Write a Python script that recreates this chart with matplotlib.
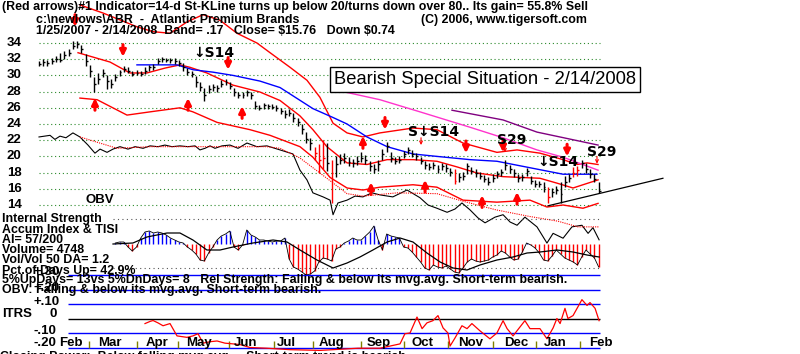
import numpy as np
import matplotlib.pyplot as plt

FONT = ['Liberation Sans Narrow', 'Liberation Sans', 'DejaVu Sans']
plt.rcParams['font.family'] = FONT

# ---------------- data (x = trading day index, 1/25/2007 .. 2/14/2008) ----------------
bar_day = list(range(0, 266, 2))
cl = [31.4, 31.6, 31.5, 31.8, 32.0, 31.9, 32.5, 32.8, 33.6, 33.9,
      33.2, 31.8, 30.5, 29.0, 29.6, 30.3, 29.3, 29.0, 29.8, 30.4,
      30.8, 30.6, 30.2, 30.3, 30.2, 30.6, 31.0, 31.0, 31.8, 32.0,
      31.9, 31.9, 31.8, 31.5, 31.0, 30.4, 30.2, 29.2, 28.6, 27.6,
      28.3, 28.6, 28.4, 29.0, 29.2, 28.7, 27.9, 27.6, 27.6, 27.9,
      27.6, 26.2, 26.0, 26.3, 26.2, 26.1, 26.0, 25.6, 25.2, 25.4,
      24.8, 24.2, 23.4, 22.2, 21.6, 20.4, 19.5, 19.8, 19.2, 18.0,
      19.0, 19.6, 19.8, 19.3, 19.2, 19.4, 19.8, 19.6, 18.8, 18.5,
      19.0, 20.3, 21.3, 19.8, 19.4, 19.6, 20.3, 20.8, 20.3, 20.0,
      19.4, 18.9, 18.7, 18.9, 18.4, 18.8, 18.6, 18.1, 17.0, 17.4,
      17.6, 18.8, 18.2, 18.0, 17.6, 17.2, 16.9, 17.3, 17.8, 18.1,
      18.9, 18.4, 17.9, 17.3, 17.4, 18.2, 17.0, 16.6, 16.6, 16.2,
      15.0, 15.6, 15.8, 15.3, 16.8, 17.3, 18.0, 18.3, 19.2, 18.4,
      17.8, 17.2, 15.76]
hi = [31.8, 32.0, 31.9, 32.1, 32.4, 32.8, 33.0, 33.2, 34.2, 34.3,
      33.7, 32.6, 31.3, 29.8, 30.3, 30.8, 30.0, 29.6, 30.2, 30.7,
      31.2, 31.0, 30.6, 30.7, 30.5, 31.0, 31.3, 31.4, 32.2, 32.3,
      32.2, 32.2, 32.1, 31.9, 31.5, 30.9, 30.6, 29.9, 29.2, 28.4,
      28.8, 29.0, 28.8, 29.4, 29.6, 29.2, 28.4, 28.0, 27.9, 28.2,
      28.0, 26.9, 26.4, 26.6, 26.5, 26.5, 26.4, 26.0, 25.7, 25.8,
      25.3, 24.7, 24.0, 23.0, 22.3, 21.2, 21.5, 22.0, 21.6, 19.6,
      20.0, 20.3, 20.4, 19.9, 19.7, 20.0, 20.6, 20.2, 19.4, 19.0,
      19.6, 20.9, 21.8, 20.5, 19.9, 20.1, 20.7, 21.2, 20.8, 20.4,
      19.9, 19.4, 19.2, 19.3, 18.9, 19.2, 19.0, 18.6, 18.4, 18.0,
      18.1, 19.2, 18.7, 18.4, 18.1, 17.7, 17.4, 17.8, 18.2, 18.5,
      19.5, 18.9, 18.4, 17.8, 17.8, 18.6, 17.6, 17.1, 17.0, 16.8,
      16.2, 16.1, 16.3, 16.8, 17.6, 17.8, 18.7, 18.8, 19.6, 19.2,
      18.4, 17.8, 16.8]
lo = [31.1, 31.2, 31.2, 31.4, 31.6, 31.7, 32.0, 32.4, 33.2, 33.4,
      32.8, 31.2, 29.8, 28.0, 29.0, 29.8, 28.3, 28.5, 29.3, 29.9,
      30.4, 30.3, 29.9, 30.0, 29.9, 30.2, 30.6, 30.7, 31.4, 31.7,
      31.6, 31.5, 31.4, 31.1, 30.6, 30.0, 29.8, 28.6, 28.1, 26.9,
      27.8, 28.1, 28.0, 28.6, 28.8, 28.3, 27.5, 27.2, 27.2, 27.5,
      27.1, 25.8, 25.7, 25.9, 25.9, 25.8, 25.6, 25.2, 24.8, 25.0,
      24.3, 23.7, 22.8, 21.6, 20.8, 19.6, 18.0, 18.5, 18.2, 14.3,
      17.5, 19.0, 19.2, 18.8, 18.7, 18.9, 19.3, 19.1, 18.2, 18.0,
      18.2, 19.5, 20.6, 19.3, 19.0, 19.2, 19.8, 20.3, 19.9, 19.6,
      19.0, 18.4, 18.3, 18.4, 18.0, 18.3, 18.1, 17.6, 16.6, 16.9,
      17.1, 17.8, 17.8, 17.5, 17.2, 16.8, 16.5, 16.9, 17.3, 17.6,
      18.3, 17.9, 17.5, 16.9, 17.0, 17.6, 16.6, 16.2, 16.2, 15.6,
      14.2, 15.0, 15.3, 14.2, 16.2, 16.8, 17.5, 17.6, 18.6, 17.9,
      17.3, 16.8, 15.5]
red_bars = [65, 66, 67, 69, 98, 120, 126, 127]

mid_x = [18.4, 33.5, 42.9, 50.9, 59.4, 66.5, 71.2, 79.2, 91.5, 104.2, 113.7, 123.1, 129.2,
         135.8, 145.3, 154.7, 164.2, 176.4, 187.7, 197.2, 206.6, 218.9, 236.3, 244.3, 251.9, 256.6, 263.7]
mid_y = [32.8, 31.65, 30.3, 30.3, 30.9, 31.3, 31.0, 30.3, 28.8, 27.95, 26.9, 25.0, 23.3,
         21.2, 19.2, 19.0, 19.6, 19.6, 19.4, 18.7, 17.95, 17.5, 17.3, 16.7, 16.1, 16.5, 17.1]
up_x = [19.3, 30.2, 46.2, 53.8, 61.8, 69.8, 77.4, 85.4, 93.4, 102.8, 109, 118.4, 126.4, 132.5,
        138.7, 145.3, 152.8, 160.8, 176.4, 187.7, 200, 216, 225.5, 236.3, 247.2, 253.8, 258.5, 263.7]
up_y = [38.7, 37.7, 36.0, 35.4, 35.2, 36.6, 37.5, 36.8, 35.2, 34.0, 32.8, 31.0, 29.4, 27.3,
        24.1, 22.9, 22.4, 22.9, 23.5, 23.3, 21.65, 20.5, 20.8, 20.4, 19.6, 19.0, 19.2, 19.0]
low_x = [19.3, 27.4, 41.5, 52.4, 66.5, 72.6, 84, 99.5, 109, 123.1, 129.2, 137.3, 145.3, 152.8,
         160.8, 176.4, 187.7, 200, 216, 231.6, 239.6, 247.2, 256.6, 263.7]
low_y = [27.2, 27.0, 25.1, 25.5, 26.0, 25.5, 24.2, 23.3, 22.6, 21.2, 19.9, 17.4, 16.1, 15.85,
         16.2, 16.5, 16.2, 14.6, 14.35, 14.6, 13.75, 14.0, 13.6, 14.2]
blue_x = [46.2, 65.1, 72.6, 82.1, 91.5, 104.2, 113.7, 129.2, 138.7, 145.3, 154.7, 164.2,
          176.4, 187.7, 203.3, 216, 231.6, 247.2, 263.2]
blue_y = [31.3, 31.3, 30.7, 30.4, 30.0, 29.3, 28.5, 25.9, 24.8, 24.0, 22.4, 21.2,
          20.3, 20.0, 19.6, 19.4, 18.6, 17.8, 17.8]
mag_x = [143.4, 160.8, 179.7, 203.3, 218.9, 234.9, 247.2, 263.7]
mag_y = [28.0, 27.0, 25.5, 23.6, 22.3, 20.8, 19.9, 18.3]
pur_x = [194.8, 218.9, 234.9, 263.7]
pur_y = [25.7, 24.5, 23.0, 21.4]
trend_x = [240.1, 294.3]
trend_y = [13.9, 17.3]

obv_x = [0, 5.2, 7.5, 9.9, 12.7, 16, 19.3, 23.1, 26.4, 28.8, 32.1, 34.9, 38.2, 42, 45.3, 49.1,
         52.4, 56.1, 59.4, 62.7, 66.5, 70.3, 73.6, 75.9, 78.3, 80.7, 83, 86.3, 90.1, 93.9, 98.1,
         102.8, 107.5, 113.7, 119.8, 123.1, 126.4, 129.2, 134, 137.3, 138.7, 141, 145.3, 149.1,
         152.8, 157.1, 160.8, 166.9, 173.6, 179.7, 183.5, 187.7, 192.5, 196.2, 199.5, 203.3,
         207.1, 210.4, 215.1, 218.9, 222.2, 225.5, 229.2, 234.9, 239.6, 242.5, 247.2, 251.4,
         256.1, 259, 261.3, 264.2]
obv_y = [22.4, 22.6, 22.1, 22.5, 22.3, 22.9, 22.4, 21.4, 20.4, 20.9, 20.5, 20.9, 21.2, 20.9,
         21.2, 21.0, 21.3, 21.2, 21.4, 21.2, 21.3, 21.2, 21.3, 20.8, 21.0, 21.3, 21.0, 21.3,
         21.4, 21.0, 21.65, 21.2, 21.3, 20.8, 20.3, 18.3, 17.1, 15.5, 15.0, 14.6, 12.8, 14.25,
         14.6, 15.1, 15.0, 15.5, 15.25, 15.0, 15.85, 14.9, 14.0, 13.6, 13.1, 13.5, 14.25, 13.4,
         12.4, 11.8, 12.5, 12.8, 11.9, 11.5, 12.5, 11.3, 9.3, 10.5, 9.9, 11.3, 11.5, 10.5,
         11.2, 9.7]
obvma_x = [19.3, 36.8, 52.4, 75.9, 107.5, 113.7, 123.1, 129.2, 137.3, 145.3, 152.8, 168.9,
           187.7, 199.5, 215.6, 231.1, 244.8, 254.2, 264.2]
obvma_y = [22.4, 21.0, 21.2, 21.2, 21.2, 21.0, 19.8, 18.6, 17.0, 15.4, 15.1, 15.5,
           15.4, 14.5, 13.4, 12.6, 12.0, 11.3, 11.3]

sell_day = [17, 39.6, 89.2, 163.2, 201.4, 218.9, 249.1]
sell_tip = [36.0, 32.3, 30.7, 23.3, 20.4, 20.5, 20.0]
buy_day = [26.4, 70.3, 95.8, 152.8, 156.6, 182.1, 209, 225.5]
buy_tip = [27.2, 27.2, 26.2, 22.5, 16.8, 17.1, 15.2, 15.6]
sig_text = ['\u2193S14', 'S\u2193S14', 'S29', '\u2193S14', 'S29']
sig_day = [72.6, 174, 216, 234.9, 258.5]
sig_price = [32.8, 23.0, 22.0, 19.3, 20.5]
thin_day = [180.2, 219.8, 263.2]
thin_tip = [21.4, 20.5, 19.1]

price_ticks = [14, 16, 18, 20, 22, 24, 26, 28, 30, 32, 34]

# Accumulation index (px scale, + = blue), from bar 18 on
ai_vals = [1, 2, 2, -3, -7, -3, 6, 12, 13, 11,
           12, 11, 9, 6, 4, 2, 1, -3, -6, -10,
           -16, -17, -9, -3, 4, 8, 10, 13, -3, -6,
           -1, 14, 9, 7, 4, 4, 3, 2, 3, 3,
           6, -15, -23, -25, -28, -31, -30, -27, -18, -14,
           -15, -17, -5, -3, 1, 3, 6, 4, 4, 8,
           12, 18, 4, -6, 10, 8, 7, 6, -3, -4,
           -8, -13, -18, -24, -26, -21, -23, -24, -22, -25,
           -28, -29, -24, -18, -15, -17, -18, -17, -16, -13,
           -11, -7, -9, -13, -16, -15, -8, 1, -1, -4,
           -9, -16, -17, -12, -6, -10, -14, -16, -18, -21,
           -13, -6, -10, -14, -23]
ai_day = bar_day[18:]
tisi_x = [34.9, 44.3, 50.9, 60.4, 66.5, 72.6, 79.2, 85.4, 91.5, 100.9, 110.4, 117, 123.1,
          131.1, 138.7, 145.3, 151.4, 157.5, 164.2, 170.3, 176.4, 183, 189.2, 195.3, 201.9,
          208, 216, 223.6, 230.2, 236.3, 244.3, 251.9, 258.5, 264.2]
tisi_y = [0, 1, 7, 11, 11, 4, -6, -6, -3, 1, 4, 2, -6, -16, -24, -19, -13, -6, 2, 6, 2, -9,
          -18, -24, -26, -21, -16, -13, -9, -8, -6, -8, -11, -13]

itrs_x = [50, 52.4, 53.8, 56.1, 58.5, 61.8, 65.1, 69.8, 72.6, 75, 77.4, 80.7, 84, 87.7, 91.5,
          94.8, 99.5, 107.5, 118.4, 132.5, 150.5, 160.8, 165.6, 170.3, 172.6, 175, 178.3,
          180.7, 183, 185.8, 188.2, 190.6, 192.9, 193.9, 196.2, 199.5, 201.9, 204.2, 208,
          212.7, 216, 218.9, 220.8, 223.6, 229.2, 231.6, 236.3, 239.6, 242.5, 244.3, 245.8,
          248.1, 249.5, 251.9, 256.1, 258.5, 259.9, 262.3, 264.2]
itrs_y = [-0.035, -0.02, -0.014, -0.03, -0.05, -0.035, -0.12, -0.13, -0.12, -0.105, -0.17,
          -0.16, -0.155, -0.17, -0.175, -0.18, -0.2, -0.205, -0.215, -0.22, -0.205, -0.205,
          -0.19, -0.175, -0.105, -0.1, 0.01, -0.07, -0.03, -0.015, 0.02, -0.065, -0.1, -0.19,
          -0.135, -0.05, -0.07, -0.035, -0.085, -0.14, -0.1, -0.015, -0.07, -0.12, -0.015,
          -0.07, -0.07, -0.14, -0.065, 0.0, -0.035, 0.07, 0.0, 0.02, 0.13, 0.09, 0.11, 0.07,
          -0.015]
itrs_levels = [0.3, 0.2, 0.1, -0.1, -0.2]

month_names = ['Feb', 'Mar', 'Apr', 'May', 'Jun', 'Jul', 'Aug', 'Sep', 'Oct', 'Nov', 'Dec', 'Jan', 'Feb']
month_pos = [15.1, 33.5, 55.7, 75.5, 97.6, 116.5, 138.2, 160.4, 180.7, 203.8, 225, 243.4, 265.1]
month_ticks = [23.6, 46.2, 65.6, 89.6, 110.8, 129.2, 152, 172, 193, 214, 234.4, 255.2]

# ---------------- figure ----------------
fig = plt.figure(figsize=(8, 3.54), dpi=100)
X0, X1 = -39 / 2.12, 761 / 2.12
END = 264.6


def layer(ylim):
    a = fig.add_axes([0, 0, 1, 1])
    a.set_xlim(X0, X1)
    a.set_ylim(*ylim)
    a.axis('off')
    return a


ax = layer((34 - 311 / 8.1, 34 + 43 / 8.1))
ax_ai = layer((-110, 244))
ax_it = layer((-35.5 / 145, 318.5 / 145))


def ftext(px, py, s, size=8.9, weight='bold', **kw):
    fig.text(px / 800, 1 - py / 354, s, va='center', fontsize=size, fontweight=weight, **kw)


# price panel
ax.hlines(price_ticks, 0, END, colors='#2b8a2b', linestyles=(0, (1, 2.5)), lw=0.8)
for p in price_ticks:
    ax.text(-15.1, p, str(p), va='center', ha='left', fontsize=9.5, fontweight='bold')

ax.plot(obv_x, obv_y, color='black', lw=0.8)
ax.plot(obvma_x, obvma_y, color='red', lw=0.8, ls=(0, (1, 1)))
ax.plot(up_x, up_y, color='red', lw=1.0)
ax.plot(low_x, low_y, color='red', lw=1.0)
ax.plot(mid_x, mid_y, color='red', lw=1.0)
ax.plot(blue_x, blue_y, color='blue', lw=1.0)
ax.plot(mag_x, mag_y, color='#ff33cc', lw=1.0)
ax.plot(pur_x, pur_y, color='#800080', lw=1.0)
ax.plot(trend_x, trend_y, color='black', lw=0.9)

bar_col = ['red' if k in red_bars else 'black' for k in range(len(bar_day))]
ax.vlines(bar_day, lo, hi, colors=bar_col, lw=1.0)
ax.hlines(cl, bar_day, np.array(bar_day) + 0.9, colors=bar_col, lw=1.0)

arrow_big = dict(arrowstyle='-|>', color='red', lw=2.2, mutation_scale=9, shrinkA=0, shrinkB=0)
for d, p in zip(sell_day, sell_tip):
    ax.annotate('', xy=(d, p), xytext=(d, p + 1.5), arrowprops=arrow_big)
for d, p in zip(buy_day, buy_tip):
    ax.annotate('', xy=(d, p), xytext=(d, p - 1.5), arrowprops=arrow_big)
for d, p in zip(thin_day, thin_tip):
    ax.annotate('', xy=(d, p), xytext=(d, p + 0.9),
                arrowprops=dict(arrowstyle='->', color='red', lw=0.8, mutation_scale=5,
                                shrinkA=0, shrinkB=0))
for s, d, p in zip(sig_text, sig_day, sig_price):
    ax.text(d, p, s, va='center', ha='left', fontsize=10, fontweight='bold',
            family=['DejaVu Sans'])

# accumulation panel
ax_ai.hlines([25, -24], 34.9, END, colors='#555555', linestyles=(0, (1, 3)), lw=0.8)
ai = np.array(ai_vals)
ax_ai.vlines(ai_day, 0, ai, colors=np.where(ai >= 0, 'blue', 'red'), lw=1.0)
ax_ai.plot(ai_day, ai_vals, color='black', lw=0.6)
ax_ai.plot(tisi_x, tisi_y, color='black', lw=0.9)

# ITRS panel
ax_it.hlines(itrs_levels, 13.7, END, colors='blue', lw=1.0)
ax_it.hlines([0], 13.7, END, colors='black', lw=1.0)
ax_it.vlines(month_ticks, -0.2, -0.155, colors='#808000', lw=1.0)
ax_it.plot(itrs_x, itrs_y, color='red', lw=0.9)
for m, d in zip(month_names, month_pos):
    ax_it.text(d, -0.172, m, ha='center', va='center', fontsize=9.5, fontweight='bold')

# text
ftext(2, 7, '(Red arrows)#1 Indicator=14-d St-KLine turns up below 20/turns down over 80.. Its gain= 55.8% Sell')
ftext(36, 20, 'c:\\newlows\\ABR  -  Atlantic Premium Brands')
ftext(421, 20, '(C) 2006, www.tigersoft.com')
ftext(36, 31, '1/25/2007 - 2/14/2008  Band= .17   Close= \\$15.76   Down \\$0.74')
ftext(485, 79.5, 'Bearish Special Situation - 2/14/2008', size=13.2, weight='normal', ha='center',
      bbox=dict(boxstyle='square,pad=0.22', fc='white', ec='black', lw=1.0))
ftext(85, 200, 'OBV', size=9.5)
ftext(33, 272, '+.30', size=9.5)
ftext(33, 288, '+.20', size=9.5)
ftext(2, 219, 'Internal Strength')
ftext(2, 230, 'Accum Index & TISI')
ftext(2, 240, 'AI= 57/200')
ftext(2, 250, 'Volume= 4748')
ftext(2, 260, 'Vol/Vol 50 DA= 1.2')
ftext(2, 271, 'Pct.of Days Up= 42.9%')
ftext(2, 280, '5%UpDays= 13vs 5%DnDays= 8   Rel Strength: Falling & below its mvg.avg. Short-term bearish.')
ftext(2, 290, 'OBV: Falling & below its mvg.avg. Short-term bearish.')
ftext(33, 302, '+.10', size=9.5)
ftext(2, 314, 'ITRS', size=9.5)
ftext(50, 314, '0', size=9.5)
ftext(33, 331, '-.10', size=9.5)
ftext(33, 343, '-.20', size=9.5)
ftext(0, 357, 'Closing Power:  Below falling mvg.avg.    Short-term trend is bearish.')

fig.savefig('out.png', dpi=100, facecolor='white')
